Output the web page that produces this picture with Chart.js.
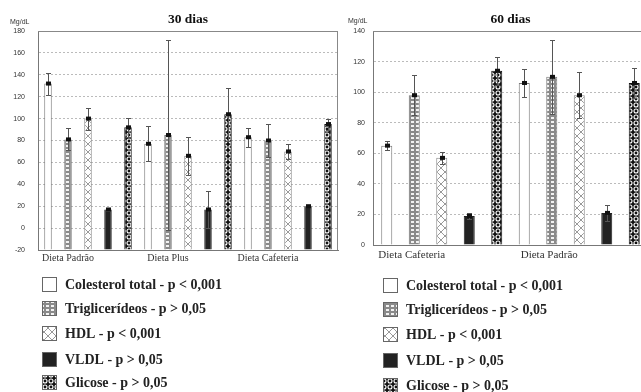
<!DOCTYPE html>
<html>
<head>
<meta charset="utf-8">
<script src="https://cdn.jsdelivr.net/npm/chart.js@4.4.1/dist/chart.umd.min.js"></script>
<style>
    html, body { margin: 0; padding: 0; background: #fff; overflow: hidden; width: 641px; height: 392px; }
    #chart30 { position: absolute; left: 0; top: 0; }
    #chart60 { position: absolute; left: 345px; top: 0; }
</style>
</head>
<body>
<canvas id="chart30" width="345" height="392"></canvas>
<canvas id="chart60" width="305" height="392"></canvas>
<script>
// legend labels (same on both panels)
const seriesNames = ["Colesterol total - p < 0,001", "Triglicerídeos - p > 0,05", "HDL - p < 0,001", "VLDL - p > 0,05", "Glicose - p > 0,05"];

// 30 dias
const groups30 = ["Dieta Padrão", "Dieta Plus", "Dieta Cafeteria"];
const colesterol30 = [132, 77, 83];
const colesterolErr30 = [10, 16, 8.5];
const triglic30 = [81, 85, 80];
const triglicErr30 = [10, 87, 15];
const hdl30 = [100, 66, 70];
const hdlErr30 = [10, 17.5, 7];
const vldl30 = [17, 17, 20];
const vldlErr30 = [1.5, 17, 1];
const glicose30 = [92, 104, 95];
const glicoseErr30 = [9, 24, 5];
const yTicks30 = {min: -20, max: 180, step: 20};

// 60 dias (the panel is cut off on the right in the original)
const groups60 = ["Dieta Cafeteria", "Dieta Padrão"];
const colesterol60 = [65, 106];
const colesterolErr60 = [3, 9];
const triglic60 = [98, 110];
const triglicErr60 = [13, 24];
const hdl60 = [57, 98];
const hdlErr60 = [4, 15];
const vldl60 = [19, 21];
const vldlErr60 = [2, 5];
const glicose60 = [114, 106];
const glicoseErr60 = [9, 10];
const yTicks60 = {min: 0, max: 140, step: 20};

function makeTile(w, h, draw) {
    let c = document.createElement("canvas");
    c.width = w;
    c.height = h;
    let g = c.getContext("2d");
    draw(g);
    return g.createPattern(c, "repeat");
}

// fills for the five series
const fills = [
    "#ffffff",
    makeTile(5, 4, g => {
        g.fillStyle = "#8a8a8a";
        g.fillRect(0, 0, 5, 4);
        g.fillStyle = "#f2f2f2";
        g.fillRect(1, 1, 3, 2);
    }),
    makeTile(8, 8, g => {
        g.fillStyle = "#ffffff";
        g.fillRect(0, 0, 8, 8);
        g.strokeStyle = "#999";
        g.lineWidth = 1;
        g.beginPath();
        g.moveTo(0, 0); g.lineTo(8, 8);
        g.moveTo(8, 0); g.lineTo(0, 8);
        g.stroke();
    }),
    "#222222",
    makeTile(6, 6, g => {
        g.fillStyle = "#111";
        g.fillRect(0, 0, 6, 6);
        g.strokeStyle = "#fff";
        g.lineWidth = 1.1;
        g.beginPath();
        g.arc(3, 3, 2, 0, Math.PI * 2);
        g.stroke();
    })
];
const borders = ["#777", "#777", "#888", "#222", "#111"];

// error bars + the little square marker on top of each bar
const errorBars = {
    id: "errorBars",
    afterDatasetsDraw(chart) {
        let ctx = chart.ctx;
        let y = chart.scales.y;
        let area = chart.chartArea;
        ctx.save();
        ctx.beginPath();
        ctx.rect(area.left, area.top - 1, area.right - area.left, area.bottom - area.top + 1);
        ctx.clip();
        chart.data.datasets.forEach((ds, i) => {
            chart.getDatasetMeta(i).data.forEach((bar, j) => {
                let v = ds.data[j];
                let e = ds.errors[j];
                if (v == null) return;
                let x = Math.round(bar.x) + 0.5;
                let yt = Math.round(y.getPixelForValue(v + e)) + 0.5;
                let yb = Math.round(y.getPixelForValue(v - e)) + 0.5;
                ctx.strokeStyle = "#555";
                ctx.lineWidth = 1;
                ctx.beginPath();
                ctx.moveTo(x, yt); ctx.lineTo(x, yb);
                ctx.moveTo(x - 2.5, yt); ctx.lineTo(x + 2.5, yt);
                ctx.moveTo(x - 2.5, yb); ctx.lineTo(x + 2.5, yb);
                ctx.stroke();
                ctx.fillStyle = "#111";
                ctx.fillRect(x - 2.5, bar.y - 2, 5, 4);
            });
        });
        ctx.restore();
    }
};

// title, unit, plot box and the stacked legend under the plot
const panelDecor = {
    id: "panelDecor",
    afterDraw(chart, args, opts) {
        let ctx = chart.ctx;
        let area = chart.chartArea;
        ctx.save();
        ctx.strokeStyle = "#888";
        ctx.lineWidth = 1;
        ctx.beginPath();
        ctx.moveTo(area.left, area.top + 0.5); ctx.lineTo(area.right, area.top + 0.5);
        ctx.moveTo(area.right - 0.5, area.top); ctx.lineTo(area.right - 0.5, area.bottom);
        ctx.stroke();

        ctx.fillStyle = "#111";
        ctx.textAlign = "center";
        ctx.textBaseline = "middle";
        ctx.font = "bold 13.5px 'Liberation Serif'";
        ctx.fillText(opts.title, (area.left + area.right) / 2, 20);

        ctx.font = "7px 'Liberation Sans'";
        ctx.textAlign = "left";
        ctx.fillStyle = "#333";
        ctx.fillText("Mg/dL", opts.unitX, opts.unitY);

        ctx.font = "bold 14px 'Liberation Serif'";
        chart.data.datasets.forEach((ds, i) => {
            let cy = opts.legendRows[i];
            ctx.fillStyle = ds.backgroundColor;
            ctx.fillRect(opts.legendX, cy - 7, 14, 14);
            ctx.strokeStyle = "#666";
            ctx.strokeRect(opts.legendX + 0.5, cy - 6.5, 14, 14);
            ctx.fillStyle = "#222";
            ctx.fillText(ds.label, opts.legendX + 23, cy + 1);
        });
        ctx.restore();
    }
};

function buildDatasets(values, errors, barPct, base) {
    return values.map((vals, i) => ({
        label: seriesNames[i],
        data: vals,
        errors: errors[i],
        backgroundColor: fills[i],
        borderColor: borders[i],
        borderWidth: 1,
        barPercentage: barPct,
        categoryPercentage: 1,
        base: base
    }));
}

function panel(id, cfg) {
    let datasets = buildDatasets(cfg.values, cfg.errors, cfg.barPct, cfg.ticks.min);
    return new Chart(document.getElementById(id), {
        type: "bar",
        data: {labels: cfg.labels, datasets: datasets},
        options: {
            responsive: false,
            animation: false,
            layout: {padding: {left: 0, right: cfg.padRight, top: 31, bottom: cfg.padBottom}},
            plugins: {
                legend: {display: false},
                tooltip: {enabled: false},
                panelDecor: cfg.decor
            },
            scales: {
                x: {
                    grid: {display: false, drawTicks: false},
                    border: {display: true, color: "#777", width: 1},
                    ticks: {
                        color: "#333",
                        padding: cfg.labelPad,
                        labelOffset: cfg.labelOffset,
                        maxRotation: 0,
                        font: {family: "'Liberation Serif'", size: cfg.labelSize}
                    },
                    afterFit: s => { s.height = 20; }
                },
                y: {
                    min: cfg.ticks.min,
                    max: cfg.ticks.max,
                    grid: {color: "#bbb", drawTicks: false},
                    border: {display: true, color: "#777", dash: [2, 2]},
                    ticks: {
                        stepSize: cfg.ticks.step,
                        color: "#333",
                        padding: cfg.tickPad,
                        font: {family: "'Liberation Sans'", size: 7}
                    },
                    afterFit: s => { s.width = cfg.axisWidth; }
                }
            }
        },
        plugins: [errorBars, panelDecor]
    });
}

panel("chart30", {
    labels: groups30,
    values: [colesterol30, triglic30, hdl30, vldl30, glicose30],
    errors: [colesterolErr30, triglicErr30, hdlErr30, vldlErr30, glicoseErr30],
    ticks: yTicks30,
    barPct: 0.375,
    axisWidth: 38,
    tickPad: 13,
    padRight: 7,
    padBottom: 122,
    labelPad: 2,
    labelOffset: -20,
    labelSize: 10,
    decor: {title: "30 dias", unitX: 10, unitY: 22, legendX: 42, legendRows: [284, 308, 333, 359, 382]}
});

panel("chart60", {
    labels: groups60,
    values: [colesterol60, triglic60, hdl60, vldl60, glicose60],
    errors: [colesterolErr60, triglicErr60, hdlErr60, vldlErr60, glicoseErr60],
    ticks: yTicks60,
    barPct: 0.4,
    axisWidth: 28,
    tickPad: 8,
    padRight: 2,
    padBottom: 127,
    labelPad: 4,
    labelOffset: -30,
    labelSize: 11,
    decor: {title: "60 dias", unitX: 3, unitY: 21, legendX: 38, legendRows: [285, 309, 334, 360, 385]}
});
</script>
</body>
</html>
